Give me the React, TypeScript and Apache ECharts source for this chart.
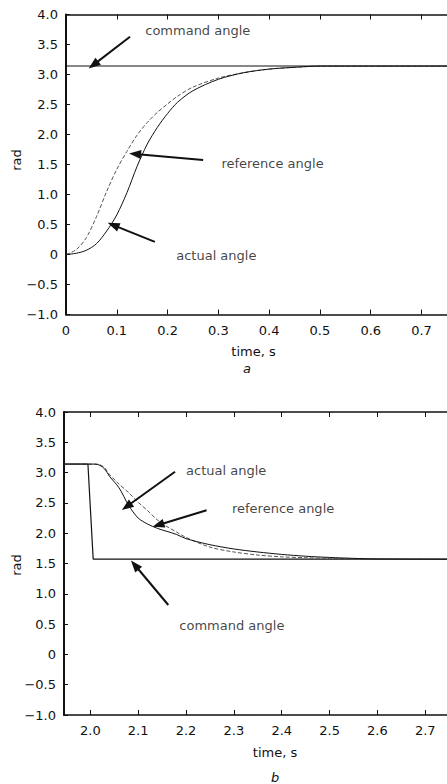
import { useEffect, useRef } from 'react';
import * as echarts from 'echarts';

// ---- panel a: step of the command angle from 0 to pi ----
const topTime = [0, 0.02, 0.04, 0.06, 0.08, 0.1, 0.12, 0.14, 0.16, 0.18, 0.2, 0.22, 0.25, 0.3, 0.35, 0.4, 0.45, 0.5, 0.76];
const topReference = [0, 0.08, 0.28, 0.63, 1.05, 1.42, 1.72, 1.99, 2.2, 2.37, 2.51, 2.64, 2.79, 2.94, 3.03, 3.09, 3.12, 3.14, 3.14];
const topActual = [0, 0.02, 0.07, 0.18, 0.39, 0.66, 1.03, 1.47, 1.84, 2.12, 2.35, 2.54, 2.73, 2.92, 3.03, 3.09, 3.12, 3.14, 3.14];
const topCommandTime = [0, 0.76];
const topCommand = [3.1416, 3.1416];
const topTicks = [0, 0.1, 0.2, 0.3, 0.4, 0.5, 0.6, 0.7];

// ---- panel b: step of the command angle from pi to pi/2 ----
const botTime = [1.945, 2.01, 2.02, 2.03, 2.04, 2.06, 2.08, 2.1, 2.12, 2.14, 2.16, 2.18, 2.2, 2.25, 2.3, 2.35, 2.4, 2.45, 2.5, 2.55, 2.6, 2.76];
const botActual = [3.14, 3.14, 3.12, 3.06, 2.94, 2.75, 2.46, 2.25, 2.15, 2.08, 2.03, 1.98, 1.91, 1.81, 1.74, 1.69, 1.65, 1.62, 1.6, 1.585, 1.575, 1.57];
const botReference = [3.14, 3.14, 3.13, 3.08, 2.97, 2.81, 2.67, 2.51, 2.37, 2.22, 2.11, 2.02, 1.93, 1.77, 1.69, 1.64, 1.61, 1.595, 1.585, 1.577, 1.572, 1.57];
const botCommandTime = [1.945, 1.995, 2.006, 2.76];
const botCommand = [3.1416, 3.1416, 1.5708, 1.5708];
const botTicks = [2.0, 2.1, 2.2, 2.3, 2.4, 2.5, 2.6, 2.7];

// annotation arrows (tail -> head) and their captions, in data units
const topArrows = [
  { from: [0.126, 3.63], to: [0.054, 3.16] },
  { from: [0.27, 1.575], to: [0.136, 1.675] },
  { from: [0.175, 0.21], to: [0.093, 0.49] },
];
const topCaptions = [
  { name: 'command angle', at: [0.156, 3.74] },
  { name: 'reference angle', at: [0.306, 1.52] },
  { name: 'actual angle', at: [0.217, -0.01] },
];
const botArrows = [
  { from: [2.177, 3.015], to: [2.076, 2.44] },
  { from: [2.243, 2.38], to: [2.142, 2.135] },
  { from: [2.163, 0.815], to: [2.093, 1.475] },
];
const botCaptions = [
  { name: 'actual angle', at: [2.2, 3.03] },
  { name: 'reference angle', at: [2.296, 2.41] },
  { name: 'command angle', at: [2.186, 0.485] },
];

const FONT = 'DejaVu Sans';
const INK = '#111';

const zip = (xs: number[], ys: number[]) => xs.map((x, i) => [x, ys[i]]);

const yFmt = (v: number) => (Math.abs(v) < 1e-9 ? '0' : (v < 0 ? '\u2212' : '') + Math.abs(v).toFixed(1));

function xAxes(gridIndex: number, min: number, max: number, ticks: number[], fmt: (v: number) => string) {
  const line = { show: true, onZero: false, lineStyle: { color: INK, width: 1.5 } };
  return [
    {
      type: 'value', gridIndex, min, max, position: 'bottom',
      axisLine: line,
      axisTick: { show: true, inside: true, length: 5, lineStyle: { color: INK }, customValues: ticks },
      axisLabel: { show: true, color: INK, fontSize: 13, fontFamily: FONT, margin: 9, customValues: ticks, formatter: fmt },
      splitLine: { show: false },
    },
    {
      type: 'value', gridIndex, min, max, position: 'top',
      axisLine: line,
      axisTick: { show: true, inside: true, length: 5, lineStyle: { color: INK }, customValues: ticks },
      axisLabel: { show: false },
      splitLine: { show: false },
    },
  ];
}

function yAxes(gridIndex: number) {
  const common = { type: 'value', gridIndex, min: -1, max: 4, interval: 0.5, splitLine: { show: false } };
  return [
    {
      ...common, position: 'left',
      axisLine: { show: true, onZero: false, lineStyle: { color: INK, width: 2 } },
      axisTick: { show: true, inside: true, length: 4, lineStyle: { color: INK } },
      axisLabel: { show: true, color: INK, fontSize: 13, fontFamily: FONT, margin: 8, formatter: yFmt },
    },
    {
      ...common, position: 'right',
      axisLine: { show: true, onZero: false, lineStyle: { color: INK, width: 1.5 } },
      axisTick: { show: true, inside: true, length: 5, lineStyle: { color: INK } },
      axisLabel: { show: false },
    },
  ];
}

function panelSeries(
  axis: number,
  time: number[], actual: number[], reference: number[],
  cmdTime: number[], cmd: number[],
  arrows: { from: number[]; to: number[] }[],
  captions: { name: string; at: number[] }[],
) {
  return [
    {
      type: 'line', name: 'command angle', xAxisIndex: axis, yAxisIndex: axis,
      data: zip(cmdTime, cmd), showSymbol: false, lineStyle: { color: INK, width: 1.2 },
      markLine: {
        silent: true, animation: false,
        symbol: ['none', 'triangle'], symbolSize: [9, 12],
        lineStyle: { color: INK, width: 2, type: 'solid' },
        label: { show: false },
        data: arrows.map((a) => [{ coord: a.from }, { coord: a.to }]),
      },
    },
    {
      type: 'line', name: 'reference angle', xAxisIndex: axis, yAxisIndex: axis,
      data: zip(time, reference), showSymbol: false, smooth: 0.3,
      lineStyle: { color: '#555', width: 1, type: [4, 2] },
    },
    {
      type: 'line', name: 'actual angle', xAxisIndex: axis, yAxisIndex: axis,
      data: zip(time, actual), showSymbol: false, smooth: 0.3,
      lineStyle: { color: INK, width: 1 },
    },
    {
      type: 'scatter', xAxisIndex: axis, yAxisIndex: axis, silent: true,
      symbolSize: 0,
      data: captions.map((c) => ({ name: c.name, value: c.at })),
      label: {
        show: true, position: 'right', distance: 0, formatter: '{b}',
        color: INK, fontSize: 13, fontFamily: FONT,
      },
    },
  ];
}

function buildOption() {
  const txt = (text: string, x: number, y: number, extra: object = {}) => ({
    type: 'text', x, y,
    style: { text, fill: INK, font: `13px "${FONT}"`, align: 'center', verticalAlign: 'middle', ...extra },
  });
  return {
    animation: false,
    backgroundColor: '#fff',
    textStyle: { fontFamily: FONT },
    grid: [
      { left: 66, top: 14.5, width: 386, height: 300, outerBoundsMode: 'none' },
      { left: 64, top: 412, width: 390, height: 303, outerBoundsMode: 'none' },
    ],
    xAxis: [
      ...xAxes(0, 0, 0.76, topTicks, (v: number) => (v === 0 ? '0' : v.toFixed(1))),
      ...xAxes(1, 1.945, 2.76, botTicks, (v: number) => v.toFixed(1)),
    ],
    yAxis: [...yAxes(0), ...yAxes(1)],
    series: [
      ...panelSeries(0, topTime, topActual, topReference, topCommandTime, topCommand, topArrows, topCaptions),
      ...panelSeries(2, botTime, botActual, botReference, botCommandTime, botCommand, botArrows, botCaptions),
    ],
    graphic: [
      { ...txt('rad', 16.5, 160), rotation: Math.PI / 2 },
      txt('time, s', 253.5, 351),
      txt('a', 247, 368, { font: `italic 13px "${FONT}"` }),
      { ...txt('rad', 16.5, 565), rotation: Math.PI / 2 },
      txt('time, s', 275, 752),
      txt('b', 275, 777, { font: `italic 13px "${FONT}"` }),
    ],
  };
}

export default function App() {
  const ref = useRef<HTMLDivElement>(null);
  useEffect(() => {
    const chart = echarts.init(ref.current!, null, { renderer: 'svg' });
    chart.setOption(buildOption() as any);
    return () => chart.dispose();
  }, []);
  return (
    <div
      ref={ref}
      style={{ position: 'fixed', left: 0, top: 0, width: 447, height: 784, background: '#fff' }}
    />
  );
}
